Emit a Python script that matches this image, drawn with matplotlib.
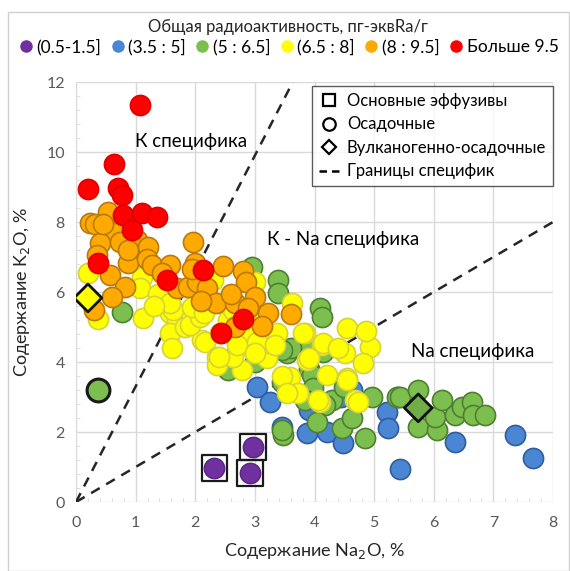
import matplotlib
matplotlib.use('Agg')
import matplotlib.pyplot as plt
from matplotlib.lines import Line2D
from matplotlib.patches import Rectangle
import numpy as np

plt.rcParams['font.family'] = ['Lato', 'Noto Sans', 'DejaVu Sans']

# Groups by total radioactivity (Na2O %, K2O %)
purple_na = [2.32, 2.97, 2.92]
purple_k = [0.97, 1.57, 0.83]

blue_na = [3.04, 3.26, 3.46, 3.88, 4.21, 4.48, 3.90, 4.63, 5.22, 5.23, 5.44, 5.40, 6.36, 7.37, 7.67, 4.45]
blue_k = [3.29, 2.86, 2.14, 1.97, 2.00, 1.69, 2.63, 3.20, 2.57, 2.11, 0.95, 3.00, 1.71, 1.91, 1.26, 3.00]

green_na = [0.77, 2.95, 3.39, 3.39, 4.09, 4.13, 3.54, 3.84, 3.60, 4.14, 3.90, 3.46, 3.96, 3.98,
            4.30, 4.18, 4.04, 4.46, 4.63, 4.85, 3.47, 4.97, 5.39, 3.84, 3.46, 2.55, 3.46, 5.44,
            5.74, 5.74, 6.06, 6.02, 6.14, 6.36, 6.48, 6.64, 6.66, 6.86, 3.00, 4.50]
green_k = [5.43, 6.71, 6.34, 5.97, 5.54, 5.29, 4.26, 4.54, 4.40, 4.30, 3.80, 3.43, 3.63, 3.26,
           2.91, 2.77, 2.29, 2.11, 2.40, 1.83, 1.91, 3.00, 3.00, 2.91, 2.06, 3.77, 4.34, 3.00,
           3.20, 2.14, 2.06, 2.43, 2.91, 2.49, 2.71, 2.86, 2.49, 2.49, 4.00, 3.30]

yellow_na = [0.20, 0.37, 1.10, 1.07, 1.12, 1.38, 1.58, 1.69, 1.91, 1.58, 2.11, 1.83, 1.61, 1.63,
             1.91, 2.08, 2.16, 2.37, 2.37, 2.79, 2.79, 3.09, 3.20, 3.22, 3.37, 3.05, 3.62, 3.59,
             3.72, 3.84, 4.09, 4.21, 3.88, 4.55, 4.55, 4.51, 4.68, 2.63, 2.42, 2.55, 2.03, 1.58,
             3.00, 1.94, 2.15, 2.63, 2.70, 2.87, 3.04, 2.70, 2.40, 3.00, 3.34, 3.81, 4.13, 3.90,
             4.14, 4.93, 4.82, 4.40, 3.46, 4.55, 3.54, 4.06, 4.73, 2.30, 3.00, 4.87, 1.30]
yellow_k = [6.54, 5.22, 6.43, 6.11, 5.26, 5.95, 5.40, 5.20, 5.40, 4.83, 4.63, 5.00, 4.40, 5.49,
            5.06, 5.29, 4.57, 4.14, 3.91, 3.77, 4.49, 4.26, 4.11, 4.54, 4.83, 4.71, 5.69, 3.57,
            3.11, 4.83, 2.86, 3.63, 4.06, 4.97, 3.54, 4.26, 2.91, 4.14, 4.83, 5.20, 5.77, 5.69,
            5.40, 5.57, 5.40, 5.49, 5.05, 4.83, 4.57, 4.49, 4.14, 4.26, 4.49, 4.83, 4.49, 4.11,
            4.54, 4.43, 3.97, 4.40, 3.60, 3.49, 3.11, 2.91, 2.86, 6.34, 6.30, 4.90, 5.60]

orange_na = [0.23, 0.32, 0.54, 0.52, 0.65, 0.40, 0.74, 1.02, 1.21, 0.87, 1.19, 1.28, 0.57, 0.82,
             0.60, 0.30, 1.58, 1.69, 1.88, 1.96, 2.00, 2.03, 2.20, 2.47, 2.80, 2.85, 3.00, 2.35,
             2.67, 2.89, 3.22, 3.12, 2.67, 3.60, 0.45, 0.88, 1.45, 0.36, 1.95, 2.60, 2.10]
orange_k = [7.97, 7.94, 8.29, 7.82, 7.70, 7.40, 7.43, 7.49, 7.29, 6.83, 6.95, 6.77, 6.50, 6.14,
            5.85, 5.49, 6.77, 6.11, 6.14, 7.43, 6.83, 6.29, 6.11, 6.74, 6.60, 6.28, 5.86, 5.70,
            5.70, 5.54, 5.40, 5.03, 5.00, 5.37, 7.95, 7.20, 6.55, 7.05, 6.65, 5.95, 5.75]

red_na = [1.07, 0.64, 0.20, 0.70, 0.77, 0.79, 1.10, 1.36, 0.94, 0.37, 1.53, 2.13, 2.80, 2.43]
red_k = [11.34, 9.66, 8.94, 8.97, 8.77, 8.20, 8.26, 8.14, 7.77, 6.83, 6.34, 6.63, 5.23, 4.83]

group_labels = ['(0.5-1.5]', '(3.5 : 5]', '(5 : 6.5]', '(6.5 : 8]', '(8 : 9.5]', 'Больше 9.5']

# Rock types
effusive_na = [2.32, 2.97, 2.92]
effusive_k = [0.97, 1.57, 0.83]
sediment_na = [0.37]
sediment_k = [3.20]
volcanic_na = [0.20, 5.74]
volcanic_k = [5.83, 2.69]
volcanic_fill = ['#FFFF00', '#70AD47']

# Boundary lines K2O = slope * Na2O
steep_slope = 3.3
flat_slope = 1.0

fig = plt.figure(figsize=(5.70, 5.71), dpi=100)
ax = fig.add_axes([76 / 570, 1 - 502 / 571, 477 / 570, 420 / 571])

ax.set_xlim(0, 8)
ax.set_ylim(0, 12)
ax.set_xticks(range(0, 9))
ax.set_yticks(range(0, 13, 2))
ax.grid(True, color='#D9D9D9', linewidth=1.0, zorder=0)
ax.set_axisbelow(True)
for s in ax.spines.values():
    s.set_visible(False)
ax.tick_params(length=0, labelsize=11.5, labelcolor='#595959', pad=8)
ax.tick_params(axis='x', pad=10)

# minor ticks like the Excel chart
ax.set_xticks(np.arange(0, 8.01, 0.2), minor=True)
ax.set_yticks(np.arange(0, 12.01, 0.4), minor=True)
ax.tick_params(which='minor', direction='in', length=3, color='#D9D9D9')

# boundary lines
xs = np.array([0, 12 / steep_slope])
ax.plot(xs, steep_slope * xs, color='#262626', linestyle=(0, (4, 3)), linewidth=1.8, zorder=1)
xs2 = np.array([0, 8])
ax.plot(xs2, flat_slope * xs2, color='#262626', linestyle=(0, (4, 3)), linewidth=1.8, zorder=1)

size = 210
groups = [
    (blue_na, blue_k, '#4A86D4', '#2F5D9E'),
    (green_na, green_k, '#7CBF4E', '#4F7F31'),
    (yellow_na, yellow_k, '#FFFF00', '#D6D23A'),
    (orange_na, orange_k, '#FFAA00', '#B87A10'),
    (red_na, red_k, '#FF0000', '#E00000'),
    (purple_na, purple_k, '#7030A0', '#5A2885'),
]
for i, (gx, gy, fc, ec) in enumerate(groups):
    ax.scatter(gx, gy, s=size, c=fc, edgecolors=ec, linewidths=1.2, zorder=2 + i)

# rock-type markers
ax.scatter(effusive_na, effusive_k, s=340, marker='s', facecolors='none',
           edgecolors='#1A1A1A', linewidths=1.6, zorder=9)
ax.scatter(sediment_na, sediment_k, s=270, marker='o', c='#7CBF4E',
           edgecolors='#1A1A1A', linewidths=2.2, zorder=9)
ax.scatter(volcanic_na, volcanic_k, s=200, marker='D', c=volcanic_fill,
           edgecolors='#111111', linewidths=2.0, zorder=9)

# region labels
ax.text(0.99, 10.3, 'К специфика', fontsize=13.5, va='center', zorder=10)
ax.text(3.2, 7.5, 'К - Na специфика', fontsize=13.5, va='center', zorder=10)
ax.text(5.62, 4.3, 'Na специфика', fontsize=13.5, va='center', zorder=10)

ax.set_xlabel('Содержание Na$_2$O, %', fontsize=13, color='#262626', labelpad=8)
ax.set_ylabel('Содержание K$_2$O, %', fontsize=13, color='#262626', labelpad=10)

# rock-type legend
rock_handles = [
    Line2D([], [], marker='s', linestyle='none', markersize=9, markerfacecolor='white',
           markeredgecolor='black', markeredgewidth=1.6),
    Line2D([], [], marker='o', linestyle='none', markersize=9, markerfacecolor='white',
           markeredgecolor='black', markeredgewidth=1.6),
    Line2D([], [], marker='D', linestyle='none', markersize=7, markerfacecolor='white',
           markeredgecolor='black', markeredgewidth=1.6),
    Line2D([], [], color='black', linestyle=(0, (3, 2)), linewidth=1.8),
]
rock_labels = ['Основные эффузивы', 'Осадочные', 'Вулканогенно-осадочные', 'Границы специфик']
leg = ax.legend(rock_handles, rock_labels, loc='upper right', bbox_to_anchor=(1.0, 0.99),
                fontsize=12, frameon=True, fancybox=False, edgecolor='#333333',
                handlelength=1.2, handletextpad=0.5, labelspacing=0.45, borderpad=0.4,
                borderaxespad=0.0)
leg.get_frame().set_linewidth(1.0)
leg.set_zorder(20)

# radioactivity legend on top
colors = ['#7030A0', '#4A86D4', '#7CBF4E', '#FFFF00', '#FFAA00', '#FF0000']
group_handles = [Line2D([], [], marker='o', linestyle='none', markersize=8, markerfacecolor=c,
                        markeredgecolor=c) for c in colors]
fig.legend(group_handles, group_labels, loc='center', bbox_to_anchor=(0.505, 1 - 47 / 571),
           ncol=6, fontsize=12.5, frameon=False, handletextpad=0.1, columnspacing=0.45,
           handlelength=1.0)

fig.text(0.505, 1 - 27 / 571, 'Общая радиоактивность, пг-эквRa/г', ha='center', va='center',
         fontsize=12, color='#262626')

# outer chart border
fig.patches.append(Rectangle((8 / 570, 0), 561 / 570, 1 - 12 / 571, transform=fig.transFigure,
                             fill=False, edgecolor='#D0D0D0', linewidth=1.0))

fig.savefig('out.png', dpi=100)
